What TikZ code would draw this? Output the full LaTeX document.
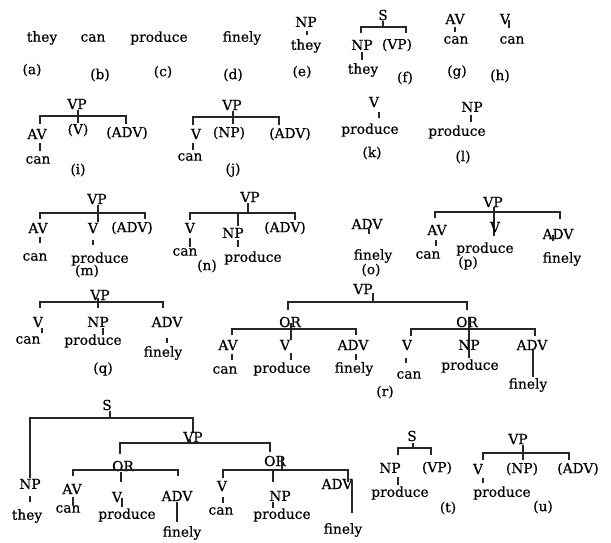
\documentclass[tikz,border=0pt]{standalone}
\usepackage{fontspec}
\setmainfont{DejaVu Serif}
\newfontfamily\treefont[FakeBold=0.5]{DejaVu Serif}
\begin{document}
\begin{tikzpicture}[x=1pt,y=-1pt,
  lab/.style={inner sep=0pt,font=\treefont\fontsize{13.8}{16}\selectfont},
  br/.style={draw=black!85,line width=1.2pt}]
\useasboundingbox (0,0) rectangle (611,543);

% ---- (a)-(d): the bare words
\node[lab] (wa) at (42,38) {they};    \node[lab] (la) at (32,70) {(a)};
\node[lab] (wb) at (93,38) {can};     \node[lab] (lb) at (100,75) {(b)};
\node[lab] (wc) at (159,38) {produce};\node[lab] (lc) at (163,72) {(c)};
\node[lab] (wd) at (242,38) {finely}; \node[lab] (ld) at (233,75) {(d)};

% ---- (e)
\node[lab] (eNP) at (306,22) {NP};
\node[lab] (eW) at (306,46) {they};
\draw[br] (307,31) -- (307,35);
\node[lab] (le) at (302,72) {(e)};

% ---- (f)
\node[lab] (fS) at (383,15) {S};
\draw[br] (383,21) -- (383,27);
\draw[br] (361,33) -- (361,27) -- (406,27) -- (406,33);
\node[lab] (fNP) at (362,45) {NP};
\node[lab] (fVP) at (397,45) {(VP)};
\draw[br] (362,52) -- (362,60);
\node[lab] (fW) at (363,70) {they};
\node[lab] (lf) at (405,78) {(f)};

% ---- (g)
\node[lab] (gAV) at (455,19) {AV};
\draw[br] (455,27) -- (455,32);
\node[lab] (gW) at (456,40) {can};
\node[lab] (lg) at (457,72) {(g)};

% ---- (h)
\node[lab] (hV) at (505,19) {V};
\draw[br] (509,20) -- (509,28);
\node[lab] (hW) at (512,40) {can};
\node[lab] (lh) at (500,76) {(h)};

% ---- (i)
\node[lab] (iVP) at (77,104) {VP};
\draw[br] (78,110) -- (78,123);
\draw[br] (40,124) -- (40,116) -- (126,116) -- (126,124);
\node[lab] (iAV) at (37,134) {AV};
\node[lab] (iV) at (78,130) {(V)};
\node[lab] (iADV) at (127,133) {(ADV)};
\draw[br] (40,143) -- (40,151);
\node[lab] (iW) at (38,160) {can};
\node[lab] (li) at (78,170) {(i)};

% ---- (j)
\node[lab] (jVP) at (232,105) {VP};
\draw[br] (233,111) -- (233,124);
\draw[br] (193,125) -- (193,117) -- (279,117) -- (279,125);
\node[lab] (jV) at (196,134) {V};
\node[lab] (jNP) at (229,133) {(NP)};
\node[lab] (jADV) at (290,134) {(ADV)};
\draw[br] (193,143) -- (193,150);
\node[lab] (jW) at (190,157) {can};
\node[lab] (lj) at (233,170) {(j)};

% ---- (k)
\node[lab] (kV) at (374,102) {V};
\draw[br] (379,112) -- (379,118);
\node[lab] (kW) at (370,130) {produce};
\node[lab] (lk) at (372,153) {(k)};

% ---- (l)
\node[lab] (lNP) at (472,107) {NP};
\draw[br] (471,115) -- (471,122);
\node[lab] (lW) at (457,132) {produce};
\node[lab] (ll) at (463,157) {(l)};

% ---- (m)
\node[lab] (mVP) at (97,199) {VP};
\draw[br] (98,205) -- (98,222);
\draw[br] (40,219) -- (40,213) -- (145,213) -- (145,219);
\node[lab] (mAV) at (38,228) {AV};
\node[lab] (mV) at (93,228) {V};
\node[lab] (mADV) at (132,228) {(ADV)};
\draw[br] (40,237) -- (40,243);
\draw[br] (93,240) -- (93,245);
\node[lab] (mW1) at (35,257) {can};
\node[lab] (mW2) at (100,259) {produce};
\node[lab] (lm) at (87,271) {(m)};

% ---- (n)
\node[lab] (nVP) at (250,197) {VP};
\draw[br] (248,203) -- (248,213);
\draw[br] (190,220) -- (190,213) -- (295,213) -- (295,220);
\draw[br] (238,213) -- (238,226);
\node[lab] (nV) at (190,228) {V};
\node[lab] (nNP) at (233,233) {NP};
\node[lab] (nADV) at (285,228) {(ADV)};
\draw[br] (190,238) -- (190,247);
\draw[br] (238,240) -- (238,247);
\node[lab] (nW1) at (185,252) {can};
\node[lab] (nW2) at (253,258) {produce};
\node[lab] (ln) at (207,266) {(n)};

% ---- (o)
\node[lab] (oADV) at (367,224) {ADV};
\draw[br] (369,229) -- (369,234);
\node[lab] (oW) at (373,256) {finely};
\node[lab] (lo) at (371,270) {(o)};

% ---- (p)
\node[lab] (pVP) at (493,202) {VP};
\draw[br] (494,207) -- (494,236);
\draw[br] (435,218) -- (435,212) -- (560,212) -- (560,219);
\node[lab] (pAV) at (437,230) {AV};
\node[lab] (pV) at (495,227) {V};
\node[lab] (pADV) at (558,234) {ADV};
\draw[br] (436,240) -- (436,246);
\draw[br] (553,235) -- (553,241);
\node[lab] (pW1) at (428,255) {can};
\node[lab] (pW2) at (485,249) {produce};
\node[lab] (pW3) at (562,259) {finely};
\node[lab] (lp) at (468,263) {(p)};

% ---- (q)
\node[lab] (qVP) at (100,295) {VP};
\draw[br] (98,298) -- (98,308);
\draw[br] (40,308) -- (40,302) -- (163,302) -- (163,308);
\node[lab] (qV) at (38,322) {V};
\node[lab] (qNP) at (98,322) {NP};
\node[lab] (qADV) at (167,322) {ADV};
\draw[br] (42,328) -- (42,333);
\draw[br] (103,328) -- (103,335);
\draw[br] (167,338) -- (167,343);
\node[lab] (qW1) at (28,340) {can};
\node[lab] (qW2) at (93,341) {produce};
\node[lab] (qW3) at (163,353) {finely};
\node[lab] (lq) at (103,369) {(q)};

% ---- (r)
\node[lab] (rVP) at (363,289) {VP};
\draw[br] (373,293) -- (373,302);
\draw[br] (288,310) -- (288,302) -- (467,302) -- (467,310);
\node[lab] (rOR1) at (290,322) {OR};
\node[lab] (rOR2) at (467,322) {OR};
% left alternative
\draw[br] (291,323) -- (291,340);
\draw[br] (232,335) -- (232,329) -- (356,329) -- (356,335);
\node[lab] (rAV) at (228,345) {AV};
\node[lab] (rV1) at (285,345) {V};
\node[lab] (rADV1) at (353,345) {ADV};
\draw[br] (232,354) -- (232,360);
\draw[br] (291,353) -- (291,360);
\draw[br] (356,354) -- (356,360);
\node[lab] (rW1) at (225,370) {can};
\node[lab] (rW2) at (282,369) {produce};
\node[lab] (rW3) at (354,369) {finely};
% right alternative
\draw[br] (469,317) -- (469,358);
\draw[br] (411,336) -- (411,329) -- (535,329) -- (535,336);
\node[lab] (rV2) at (407,345) {V};
\node[lab] (rNP) at (469,345) {NP};
\node[lab] (rADV2) at (532,345) {ADV};
\draw[br] (406,358) -- (406,363);
\draw[br] (533,350) -- (533,377);
\node[lab] (rW4) at (409,375) {can};
\node[lab] (rW5) at (470,366) {produce};
\node[lab] (rW6) at (528,385) {finely};
\node[lab] (lr) at (385,392) {(r)};

% ---- (s)
\node[lab] (sS) at (107,405) {S};
\draw[br] (110,411) -- (110,418);
\draw[br] (30,478) -- (30,418) -- (193,418) -- (193,433);
\node[lab] (sNP) at (30,484) {NP};
\draw[br] (30,496) -- (30,502);
\node[lab] (sW0) at (27,516) {they};
\node[lab] (sVP) at (193,437) {VP};
\draw[br] (190,439) -- (190,443);
\draw[br] (120,454) -- (120,443) -- (270,443) -- (270,452);
% left alternative
\node[lab] (sOR1) at (123,466) {OR};
\draw[br] (121,472) -- (121,482);
\draw[br] (73,476) -- (73,470) -- (178,470) -- (178,476);
\node[lab] (sAV) at (72,489) {AV};
\node[lab] (sV1) at (117,497) {V};
\node[lab] (sADV1) at (177,496) {ADV};
\draw[br] (73,497) -- (73,505);
\draw[br] (122,498) -- (122,507);
\draw[br] (177,502) -- (177,522);
\node[lab] (sW1) at (68,509) {can};
\node[lab] (sW2) at (127,515) {produce};
\node[lab] (sW3) at (182,533) {finely};
% right alternative
\node[lab] (sOR2) at (275,461) {OR};
\draw[br] (282,457) -- (282,470);
\draw[br] (223,478) -- (223,470) -- (348,470) -- (348,482);
\draw[br] (273,470) -- (273,482);
\node[lab] (sV2) at (222,486) {V};
\node[lab] (sNP2) at (280,496) {NP};
\node[lab] (sADV2) at (337,484) {ADV};
\draw[br] (352,480) -- (352,513);
\draw[br] (223,497) -- (223,503);
\draw[br] (273,502) -- (273,508);
\node[lab] (sW4) at (221,511) {can};
\node[lab] (sW5) at (282,515) {produce};
\node[lab] (sW6) at (343,530) {finely};

% ---- (t)
\node[lab] (tS) at (412,436) {S};
\draw[br] (413,443) -- (413,448);
\draw[br] (398,455) -- (398,448) -- (431,448) -- (431,455);
\node[lab] (tNP) at (390,468) {NP};
\node[lab] (tVP) at (437,468) {(VP)};
\draw[br] (398,477) -- (398,485);
\node[lab] (tW) at (400,493) {produce};
\node[lab] (lt) at (448,508) {(t)};

% ---- (u)
\node[lab] (uVP) at (518,439) {VP};
\draw[br] (523,445) -- (523,460);
\draw[br] (483,460) -- (483,453) -- (569,453) -- (569,460);
\node[lab] (uV) at (478,469) {V};
\node[lab] (uNP) at (522,469) {(NP)};
\node[lab] (uADV) at (578,469) {(ADV)};
\draw[br] (483,478) -- (483,483);
\node[lab] (uW) at (502,493) {produce};
\node[lab] (lu) at (543,507) {(u)};
\end{tikzpicture}
\end{document}
